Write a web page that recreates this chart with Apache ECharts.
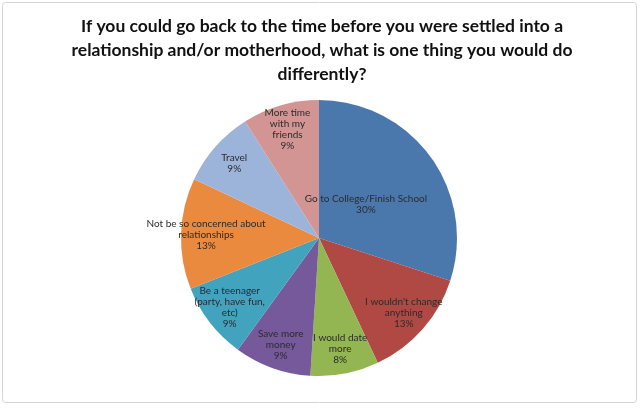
<!DOCTYPE html>
<html>
<head>
<meta charset="utf-8">
<script src="https://cdn.jsdelivr.net/npm/echarts@6/dist/echarts.min.js"></script>
<style>
  html, body { margin: 0; padding: 0; background: #fff; }
  #main { width: 640px; height: 409px; }
</style>
</head>
<body>
<div id="main"></div>
<script>
var titleText = 'If you could go back to the time before you were settled into a\nrelationship and/or motherhood, what is one thing you would do\ndifferently?';

var categories = [
  'Go to College/Finish School',
  "I wouldn't change anything",
  'I would date more',
  'Save more money',
  'Be a teenager (party, have fun, etc)',
  'Not be so concerned about relationships',
  'Travel',
  'More time with my friends'
];
// wrapped label text as it appears inside the slices
var labelNames = [
  'Go to College/Finish School',
  "I wouldn't change\nanything",
  'I would date\nmore',
  'Save more\nmoney',
  'Be a teenager\n(party, have fun,\netc)',
  'Not be so concerned about\nrelationships',
  'Travel',
  'More time\nwith my\nfriends'
];
var percents = [30, 13, 8, 9, 9, 13, 9, 9];
var colors = ['#4a78ad', '#b04844', '#93b552', '#76599a', '#42a3be', '#e98a3e', '#9db4da', '#d39593'];

var chart = echarts.init(document.getElementById('main'));

var labelStyle = {
  position: 'inside',
  color: '#2b2b2b',
  fontFamily: 'Lato',
  fontSize: 10,
  lineHeight: 11,
  formatter: function (p) { return labelNames[p.dataIndex] + '\n' + p.value + '%'; }
};

function pieData(showFn, fill) {
  return categories.map(function (c, i) {
    return {
      name: c,
      value: percents[i],
      itemStyle: { color: fill ? colors[i] : 'rgba(0,0,0,0)' },
      label: { show: showFn(i) }
    };
  });
}

var center = [319, 238];

var option = {
  animation: false,
  graphic: [{
    type: 'rect',
    shape: { x: 2.5, y: 2.5, width: 634, height: 400, r: 3 },
    style: { fill: 'none', stroke: '#d4d4d4', lineWidth: 1 },
    silent: true
  }, {
    type: 'text',
    x: 322,
    y: 14,
    silent: true,
    style: {
      text: titleText,
      align: 'center',
      fill: '#111',
      fontFamily: 'Lato',
      fontSize: 17.5,
      fontWeight: 'bold',
      lineHeight: 24
    }
  }],
  series: [
    {
      type: 'pie',
      center: center,
      radius: [0, 138],
      startAngle: 90,
      clockwise: true,
      label: { show: false },
      labelLine: { show: false },
      itemStyle: { borderWidth: 0 },
      silent: true,
      data: pieData(function () { return false; }, true)
    },
    {
      // the large slice keeps its label near the middle
      type: 'pie',
      center: center,
      radius: [0, 110],
      startAngle: 90,
      clockwise: true,
      avoidLabelOverlap: false,
      label: labelStyle,
      labelLine: { show: false },
      labelLayout: { hideOverlap: false },
      silent: true,
      data: pieData(function (i) { return i === 0; }, false)
    },
    {
      // the other slices put their labels further out
      type: 'pie',
      center: center,
      radius: [82, 138],
      startAngle: 90,
      clockwise: true,
      avoidLabelOverlap: false,
      label: labelStyle,
      labelLine: { show: false },
      labelLayout: { hideOverlap: false },
      silent: true,
      data: pieData(function (i) { return i !== 0; }, false)
    }
  ]
};

chart.setOption(option);
</script>
</body>
</html>
